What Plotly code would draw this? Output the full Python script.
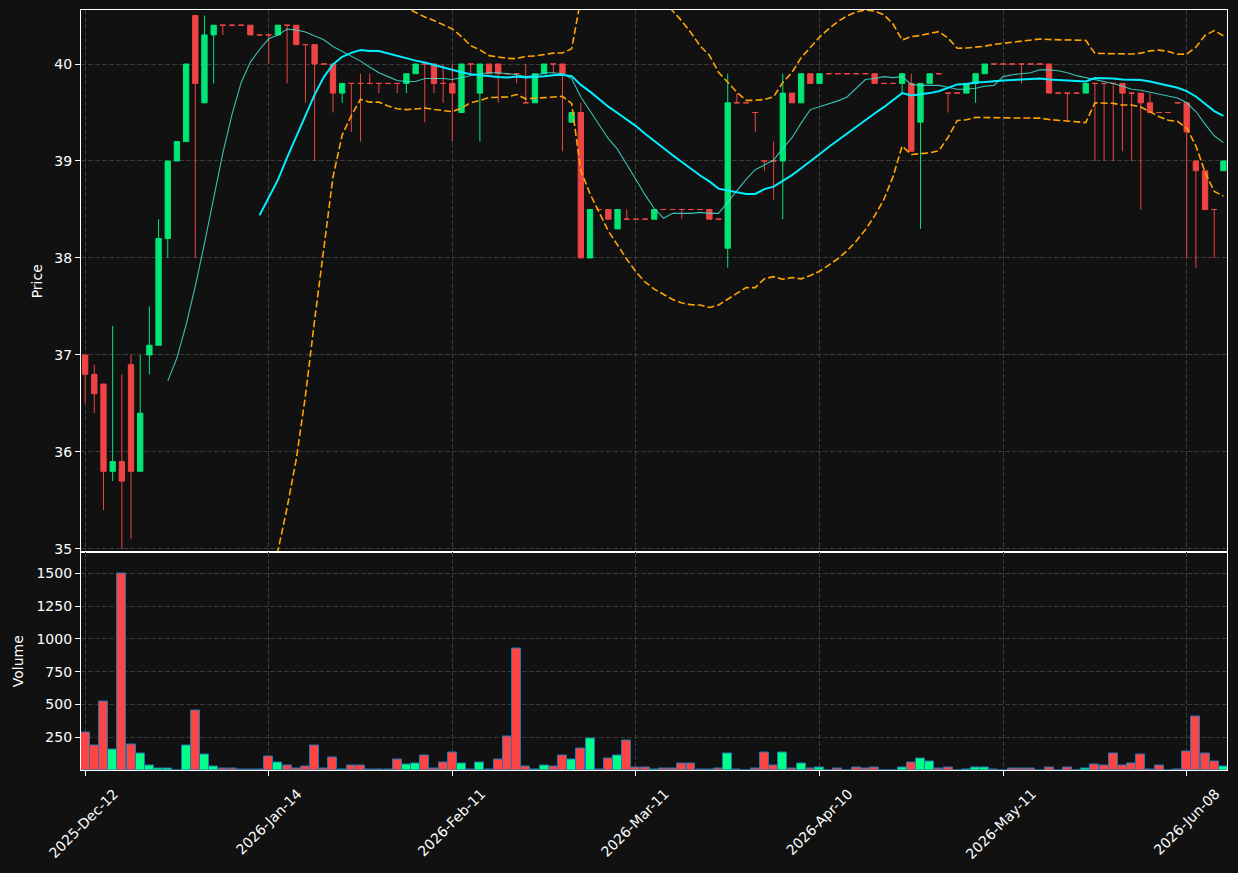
import plotly.graph_objects as go
import pandas as pd

# ---------------- data ----------------
tick_pos = [0, 20, 40, 60, 80, 100, 120]
tick_labels = ["2025-Dec-12", "2026-Jan-14", "2026-Feb-11", "2026-Mar-11",
               "2026-Apr-10", "2026-May-11", "2026-Jun-08"]

opens = [37.0, 36.8, 36.7, 35.8, 35.9, 36.9, 35.8, 37.0, 37.1, 38.2,
         39.0, 39.2, 40.5, 39.6, 40.3, 40.4, 40.4, 40.4, 40.4, 40.3,
         40.3, 40.3, 40.4, 40.4, 40.2, 40.2, 40.0, 40.0, 39.7, 39.8,
         39.8, 39.8, 39.8, 39.8, 39.8, 39.8, 39.9, 40.0, 40.0, 39.8,
         39.8, 39.5, 40.0, 39.7, 40.0, 40.0, 39.9, 39.9, 39.6, 39.6,
         39.9, 40.0, 40.0, 39.4, 39.5, 38.0, 38.5, 38.5, 38.3, 38.4,
         38.4, 38.4, 38.4, 38.5, 38.5, 38.5, 38.5, 38.5, 38.5, 38.4,
         38.1, 39.6, 39.6, 39.5, 39.0, 39.0, 39.0, 39.7, 39.6, 39.9,
         39.8, 39.9, 39.9, 39.9, 39.9, 39.9, 39.9, 39.8, 39.8, 39.8,
         39.8, 39.4, 39.8, 39.9, 39.7, 39.7, 39.7, 39.8, 39.9, 40.0,
         40.0, 40.0, 40.0, 40.0, 40.0, 40.0, 39.7, 39.7, 39.7, 39.7,
         39.8, 39.8, 39.8, 39.8, 39.7, 39.7, 39.6, 39.5, 39.5, 39.6,
         39.6, 39.0, 38.9, 38.5, 38.9]
highs = [37.0, 36.9, 36.7, 37.3, 36.8, 37.0, 37.0, 37.5, 38.4, 39.0,
         39.2, 40.0, 40.5, 40.5, 40.4, 40.4, 40.4, 40.4, 40.4, 40.3,
         40.3, 40.4, 40.4, 40.4, 40.2, 40.2, 40.0, 40.0, 39.8, 39.8,
         39.9, 39.9, 39.8, 39.8, 39.8, 39.9, 40.0, 40.0, 40.0, 40.0,
         40.0, 40.0, 40.0, 40.0, 40.0, 40.0, 39.9, 39.9, 40.0, 39.9,
         40.0, 40.0, 40.0, 39.5, 39.6, 38.5, 38.5, 38.5, 38.5, 38.5,
         38.4, 38.4, 38.5, 38.5, 38.5, 38.5, 38.5, 38.5, 38.5, 38.4,
         39.9, 39.7, 39.6, 39.5, 39.0, 39.2, 39.9, 39.7, 39.9, 39.9,
         39.9, 39.9, 39.9, 39.9, 39.9, 39.9, 39.9, 39.8, 39.8, 39.9,
         39.9, 39.8, 39.9, 39.9, 39.7, 39.7, 39.8, 39.9, 40.0, 40.0,
         40.0, 40.0, 40.0, 40.0, 40.0, 40.0, 39.7, 39.7, 39.7, 39.8,
         39.8, 39.8, 39.8, 39.8, 39.7, 39.7, 39.7, 39.5, 39.5, 39.6,
         39.6, 39.0, 38.9, 38.5, 39.0]
lows = [36.5, 36.4, 35.4, 35.7, 35.0, 35.1, 35.8, 36.8, 37.1, 38.0,
        39.0, 39.2, 38.0, 39.6, 39.8, 40.3, 40.4, 40.4, 40.3, 40.3,
        40.0, 40.3, 39.8, 40.2, 39.6, 39.0, 40.0, 39.5, 39.6, 39.3,
        39.2, 39.8, 39.7, 39.8, 39.7, 39.7, 39.9, 39.4, 39.7, 39.6,
        39.2, 39.5, 39.9, 39.2, 39.9, 39.6, 39.9, 39.8, 39.6, 39.6,
        39.9, 39.9, 39.1, 39.4, 38.0, 38.0, 38.5, 38.4, 38.3, 38.4,
        38.4, 38.4, 38.4, 38.5, 38.5, 38.4, 38.5, 38.5, 38.4, 38.4,
        37.9, 39.6, 39.6, 39.3, 38.9, 38.6, 38.4, 39.6, 39.6, 39.8,
        39.8, 39.9, 39.9, 39.9, 39.9, 39.9, 39.8, 39.8, 39.8, 39.7,
        39.1, 38.3, 39.8, 39.9, 39.5, 39.7, 39.7, 39.6, 39.9, 40.0,
        40.0, 40.0, 39.8, 40.0, 40.0, 39.7, 39.7, 39.4, 39.7, 39.7,
        39.0, 39.0, 39.0, 39.1, 39.0, 38.5, 39.5, 39.5, 39.5, 39.6,
        38.0, 37.9, 38.5, 38.0, 38.9]
closes = [36.8, 36.6, 35.8, 35.9, 35.7, 35.8, 36.4, 37.1, 38.2, 39.0,
          39.2, 40.0, 39.8, 40.3, 40.4, 40.4, 40.4, 40.4, 40.3, 40.3,
          40.3, 40.4, 40.4, 40.2, 40.2, 40.0, 40.0, 39.7, 39.8, 39.8,
          39.8, 39.8, 39.8, 39.8, 39.8, 39.9, 40.0, 40.0, 39.8, 39.8,
          39.7, 40.0, 40.0, 40.0, 39.9, 39.9, 39.9, 39.9, 39.6, 39.9,
          40.0, 40.0, 39.9, 39.5, 38.0, 38.5, 38.5, 38.4, 38.5, 38.4,
          38.4, 38.4, 38.5, 38.5, 38.5, 38.5, 38.5, 38.5, 38.4, 38.4,
          39.6, 39.6, 39.6, 39.5, 39.0, 39.0, 39.7, 39.6, 39.9, 39.8,
          39.9, 39.9, 39.9, 39.9, 39.9, 39.9, 39.8, 39.8, 39.8, 39.9,
          39.1, 39.8, 39.9, 39.9, 39.7, 39.7, 39.8, 39.9, 40.0, 40.0,
          40.0, 40.0, 40.0, 40.0, 40.0, 39.7, 39.7, 39.7, 39.7, 39.8,
          39.8, 39.8, 39.8, 39.7, 39.7, 39.6, 39.5, 39.5, 39.5, 39.6,
          39.3, 38.9, 38.5, 38.5, 39.0]
volumes = [288, 188, 525, 158, 1500, 196, 127, 36, 10, 10,
           0, 188, 456, 120, 28, 13, 13, 5, 5, 5,
           104, 59, 36, 13, 28, 188, 13, 97, 5, 36,
           36, 5, 5, 5, 82, 43, 51, 112, 13, 59,
           135, 51, 5, 59, 5, 82, 257, 927, 28, 5,
           36, 28, 112, 82, 166, 242, 5, 89, 112, 227,
           20, 20, 5, 13, 13, 51, 51, 5, 5, 13,
           127, 5, 0, 13, 135, 36, 135, 13, 51, 13,
           20, 0, 13, 0, 20, 13, 20, 0, 0, 20,
           59, 89, 66, 13, 20, 0, 5, 20, 20, 5,
           0, 13, 13, 13, 0, 20, 0, 20, 0, 13,
           43, 36, 127, 36, 51, 120, 5, 36, 0, 5,
           143, 410, 127, 66, 28]

# ---------------- styling ----------------
BG = "#111111"
GRID = "#3a3a3a"
CANDLE_UP = "#00e676"
CANDLE_DN = "#ef4444"
VOL_UP = "#00ff88"
VOL_DN = "#ff4444"
FONT = dict(family="DejaVu Sans", size=14, color="white")

idx = list(range(len(closes)))
cs = pd.Series(closes)
ma10 = cs.rolling(10).mean()
ma20 = cs.rolling(20).mean()
sd20 = cs.rolling(20).std()
bb_up = ma20 + 2 * sd20
bb_lo = ma20 - 2 * sd20

is_up = [c > o for o, c in zip(opens, closes)]

fig = go.Figure()


def candle_trace(sel, color):
    return go.Candlestick(
        x=[idx[i] for i in sel],
        open=[opens[i] for i in sel], high=[highs[i] for i in sel],
        low=[lows[i] for i in sel], close=[closes[i] for i in sel],
        increasing=dict(line=dict(color=color, width=1), fillcolor=color),
        decreasing=dict(line=dict(color=color, width=1), fillcolor=color),
        whiskerwidth=0, showlegend=False, xaxis="x", yaxis="y",
    )


fig.add_trace(candle_trace([i for i in idx if is_up[i]], CANDLE_UP))
fig.add_trace(candle_trace([i for i in idx if not is_up[i]], CANDLE_DN))

fig.add_trace(go.Scatter(x=idx, y=ma10, mode="lines",
                         line=dict(color="rgba(64,224,208,0.85)", width=1.1),
                         showlegend=False, xaxis="x", yaxis="y"))
fig.add_trace(go.Scatter(x=idx, y=ma20, mode="lines",
                         line=dict(color="#00eeff", width=2),
                         showlegend=False, xaxis="x", yaxis="y"))
for band in (bb_up, bb_lo):
    fig.add_trace(go.Scatter(x=idx, y=band, mode="lines",
                             line=dict(color="#ffa500", width=1.6, dash="7px,3px"),
                             showlegend=False, xaxis="x", yaxis="y"))

fig.add_trace(go.Bar(
    x=idx, y=volumes, width=0.98,
    marker=dict(color=[VOL_UP if u else VOL_DN for u in is_up],
                line=dict(color="#1f77b4", width=1)),
    showlegend=False, xaxis="x2", yaxis="y2",
))

XR = [-0.45, 124.39]
SPLIT = 0.2862
common_x = dict(range=XR, showgrid=True, gridcolor=GRID, griddash="5px,2px",
                gridwidth=1, tickvals=tick_pos, zeroline=False, automargin=False,
                showline=True, linecolor="white", linewidth=1.2, mirror=True)
common_y = dict(showgrid=True, gridcolor=GRID, griddash="5px,2px", gridwidth=1,
                zeroline=False, showline=True, linecolor="white", linewidth=1.2,
                mirror=True, ticks="outside", ticklen=5, tickcolor="white",
                tickfont=FONT, automargin=False)

fig.update_layout(
    width=1238, height=873,
    margin=dict(l=81, r=11, t=10, b=103),
    paper_bgcolor=BG, plot_bgcolor=BG,
    font=FONT,
    boxgap=0.42, boxgroupgap=0, boxmode="overlay",
    bargap=0,
    showlegend=False,
    xaxis=dict(**common_x, domain=[0, 1], anchor="y", showticklabels=False,
               ticks="", rangeslider=dict(visible=False)),
    xaxis2=dict(**common_x, domain=[0, 1], anchor="y2", matches="x",
                ticktext=tick_labels, tickangle=-45, ticks="outside",
                ticklen=5, tickcolor="white", tickfont=FONT,
                ticklabelshift=29, ticklabelstandoff=4),
    yaxis=dict(**common_y, domain=[SPLIT, 1], range=[34.963, 40.557],
               tickvals=[35, 36, 37, 38, 39, 40],
               title=dict(text="Price", font=FONT, standoff=8)),
    yaxis2=dict(**common_y, domain=[0, SPLIT], range=[0, 1658],
                tickvals=[250, 500, 750, 1000, 1250, 1500],
                title=dict(text="Volume", font=FONT, standoff=9)),
)

fig.write_html("out.html")
